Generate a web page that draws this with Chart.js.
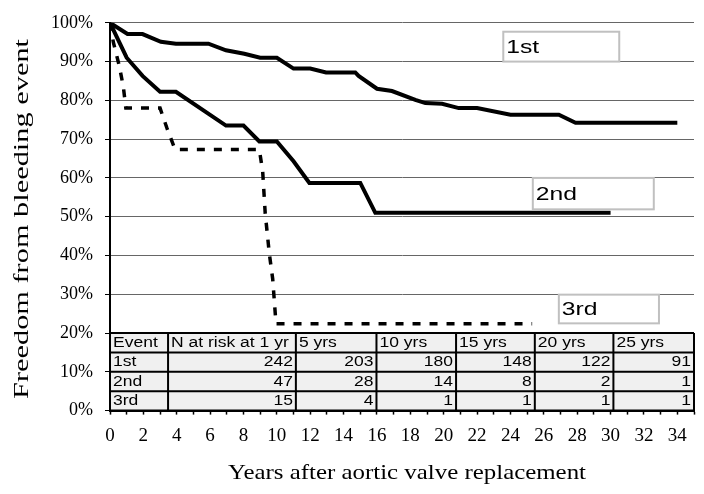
<!DOCTYPE html>
<html>
<head>
<meta charset="utf-8">
<script src="https://cdn.jsdelivr.net/npm/chart.js@4.4.0/dist/chart.umd.min.js"></script>
<style>
    html, body { margin: 0; padding: 0; background: #fff; }
    canvas { display: block; }
</style>
</head>
<body>
<canvas id="grafica" width="704" height="494"></canvas>
<script>
// Kaplan-Meier curves (years, % free of event)
const years1st = [0, 1.05, 1.95, 3.05, 3.95, 5.9, 6.95, 8.05, 9.0, 10.0, 11.0, 12.0, 12.95, 14.7, 14.9, 16.0, 16.9, 18.3, 18.9, 19.9, 20.9, 22.0, 24.0, 26.9, 27.9, 34.0];
const free1st = [100, 97.1, 97.1, 95.1, 94.6, 94.6, 92.9, 92.0, 91.0, 91.0, 88.2, 88.2, 87.2, 87.2, 86.3, 83.0, 82.4, 80.1, 79.3, 79.1, 78.0, 78.0, 76.3, 76.3, 74.2, 74.2];

const years2nd = [0, 1.0, 1.95, 3.0, 3.95, 6.95, 8.0, 8.95, 10.0, 11.0, 11.95, 15.0, 15.9, 30.0];
const free2nd = [100, 91.0, 86.3, 82.2, 82.2, 73.5, 73.5, 69.4, 69.4, 64.3, 58.7, 58.7, 51.0, 51.0];

const years3rd = [0, 0.2, 0.55, 0.8, 0.95, 3.0, 3.4, 3.9, 8.95, 9.15, 9.3, 9.55, 9.75, 9.95, 25.3];
const free3rd = [100, 95, 89, 83.5, 78, 78, 73, 67.3, 67.3, 61.7, 51, 40.4, 34, 22.4, 22.4];

// Table of patients at risk
const tableHeader = ['Event', 'N at risk at 1 yr', '5 yrs', '10 yrs', '15 yrs', '20 yrs', '25 yrs'];
const eventNames = ['1st', '2nd', '3rd'];
const atRisk1st = [242, 203, 180, 148, 122, 91];
const atRisk2nd = [47, 28, 14, 8, 2, 1];
const atRisk3rd = [15, 4, 1, 1, 1, 1];

const yTitle = 'Freedom from bleeding event';
const xTitle = 'Years after aortic valve replacement';

// Layout (in axis units) for the table and the curve labels
const tableCols = [0, 3.48, 11.14, 15.97, 20.74, 25.46, 30.17, 35];
const tableRows = [20, 15, 10, 5, 0];
const labelBoxes = [
    { x0: 23.57, x1: 30.52, y0: 97.7, y1: 90.0 },
    { x0: 25.34, x1: 32.59, y0: 60.0, y1: 51.9 },
    { x0: 26.9, x1: 32.9, y0: 29.9, y1: 22.5 }
];

const serif = '"Liberation Serif", "Times New Roman", serif';
const sans = '"Liberation Sans", Arial, sans-serif';

const toPoints = (xs, ys) => xs.map((x, i) => ({ x: x, y: ys[i] }));

// text drawn a bit wider than the font, like the original
const stretchText = (ctx, text, x, y, scale, align) => {
    ctx.save();
    ctx.translate(x, y);
    ctx.scale(scale, 1);
    ctx.textAlign = align;
    ctx.fillText(text, 0, 0);
    ctx.restore();
};

const tablePlugin = {
    id: 'riskTable',
    beforeDatasetsDraw(chart) {
        const { ctx, scales: { x, y } } = chart;
        const xs = tableCols.map(c => x.getPixelForValue(c));
        const ys = tableRows.map(r => y.getPixelForValue(r));
        const rows = [tableHeader, [eventNames[0], ...atRisk1st], [eventNames[1], ...atRisk2nd], [eventNames[2], ...atRisk3rd]];

        ctx.save();
        ctx.fillStyle = '#f0f0f0';
        ctx.fillRect(xs[0], ys[0], xs[xs.length - 1] - xs[0], ys[ys.length - 1] - ys[0]);

        ctx.strokeStyle = '#000';
        ctx.lineWidth = 2;
        ctx.beginPath();
        ys.forEach(py => { ctx.moveTo(xs[0], py); ctx.lineTo(xs[xs.length - 1], py); });
        xs.forEach(px => { ctx.moveTo(px, ys[0]); ctx.lineTo(px, ys[ys.length - 1]); });
        ctx.stroke();

        ctx.fillStyle = '#000';
        ctx.font = `14px ${sans}`;
        ctx.textBaseline = 'middle';
        rows.forEach((row, r) => {
            const cy = (ys[r] + ys[r + 1]) / 2 + 0.5;
            row.forEach((cell, c) => {
                if (r === 0 || c === 0) {
                    stretchText(ctx, String(cell), xs[c] + 3, cy, 1.25, 'left');
                } else {
                    stretchText(ctx, String(cell), xs[c + 1] - 3, cy, 1.25, 'right');
                }
            });
        });
        ctx.restore();
    }
};

const labelPlugin = {
    id: 'curveLabels',
    afterDatasetsDraw(chart) {
        const { ctx, scales: { x, y } } = chart;
        ctx.save();
        labelBoxes.forEach((b, i) => {
            const left = x.getPixelForValue(b.x0);
            const right = x.getPixelForValue(b.x1);
            const top = y.getPixelForValue(b.y0);
            const bottom = y.getPixelForValue(b.y1);
            ctx.fillStyle = '#fff';
            ctx.fillRect(left, top, right - left, bottom - top);
            ctx.strokeStyle = '#c0c0c0';
            ctx.lineWidth = 2;
            ctx.strokeRect(left, top, right - left, bottom - top);
            ctx.fillStyle = '#000';
            ctx.font = `19px ${sans}`;
            ctx.textBaseline = 'middle';
            stretchText(ctx, eventNames[i], left + 3, (top + bottom) / 2 + 1, 1.3, 'left');
        });
        ctx.restore();
    }
};

const titlePlugin = {
    id: 'axisTitles',
    afterDraw(chart) {
        const ctx = chart.ctx;
        ctx.save();
        ctx.fillStyle = '#000';
        ctx.textBaseline = 'middle';

        ctx.font = `21px ${serif}`;
        stretchText(ctx, xTitle, 407, 473, 358 / ctx.measureText(xTitle).width, 'center');

        ctx.font = `21px ${serif}`;
        const s = 360 / ctx.measureText(yTitle).width;
        ctx.translate(22, 219);
        ctx.rotate(-Math.PI / 2);
        stretchText(ctx, yTitle, 0, 0, s, 'center');
        ctx.restore();
    }
};

const line = (data, dash, width) => ({
    data: data,
    borderColor: '#000',
    borderWidth: width,
    borderDash: dash,
    pointRadius: 0,
    tension: 0,
    fill: false
});

new Chart(document.getElementById('grafica').getContext('2d'), {
    type: 'line',
    data: {
        datasets: [
            line(toPoints(years1st, free1st), [], 4),
            line(toPoints(years2nd, free2nd), [], 4),
            line(toPoints(years3rd, free3rd), [8, 9], 3.5)
        ]
    },
    options: {
        responsive: false,
        animation: false,
        layout: { padding: { top: 17.7, right: 0, bottom: 0, left: 0 } },
        plugins: { legend: { display: false }, tooltip: { enabled: false } },
        scales: {
            x: {
                type: 'linear',
                min: 0,
                max: 35,
                afterFit: s => { s.height = 83.4; },
                ticks: {
                    stepSize: 1,
                    autoSkip: false,
                    maxRotation: 0,
                    padding: 10,
                    color: '#000',
                    font: { family: serif, size: 19 },
                    callback: v => (v % 2 === 0 && v <= 34) ? v : ''
                },
                grid: { drawOnChartArea: false, tickLength: 4, tickColor: '#000', tickWidth: 1.5 },
                border: { color: '#000', width: 2 }
            },
            y: {
                min: 0,
                max: 100,
                afterFit: s => { s.width = 110; },
                ticks: {
                    stepSize: 10,
                    padding: 12,
                    color: '#000',
                    font: { family: serif, size: 18 },
                    callback: v => `${v}%`
                },
                grid: { color: '#666', lineWidth: 1, tickLength: 5, tickColor: '#000' },
                border: { color: '#000', width: 2 }
            }
        }
    },
    plugins: [tablePlugin, labelPlugin, titlePlugin]
});
</script>
</body>
</html>
